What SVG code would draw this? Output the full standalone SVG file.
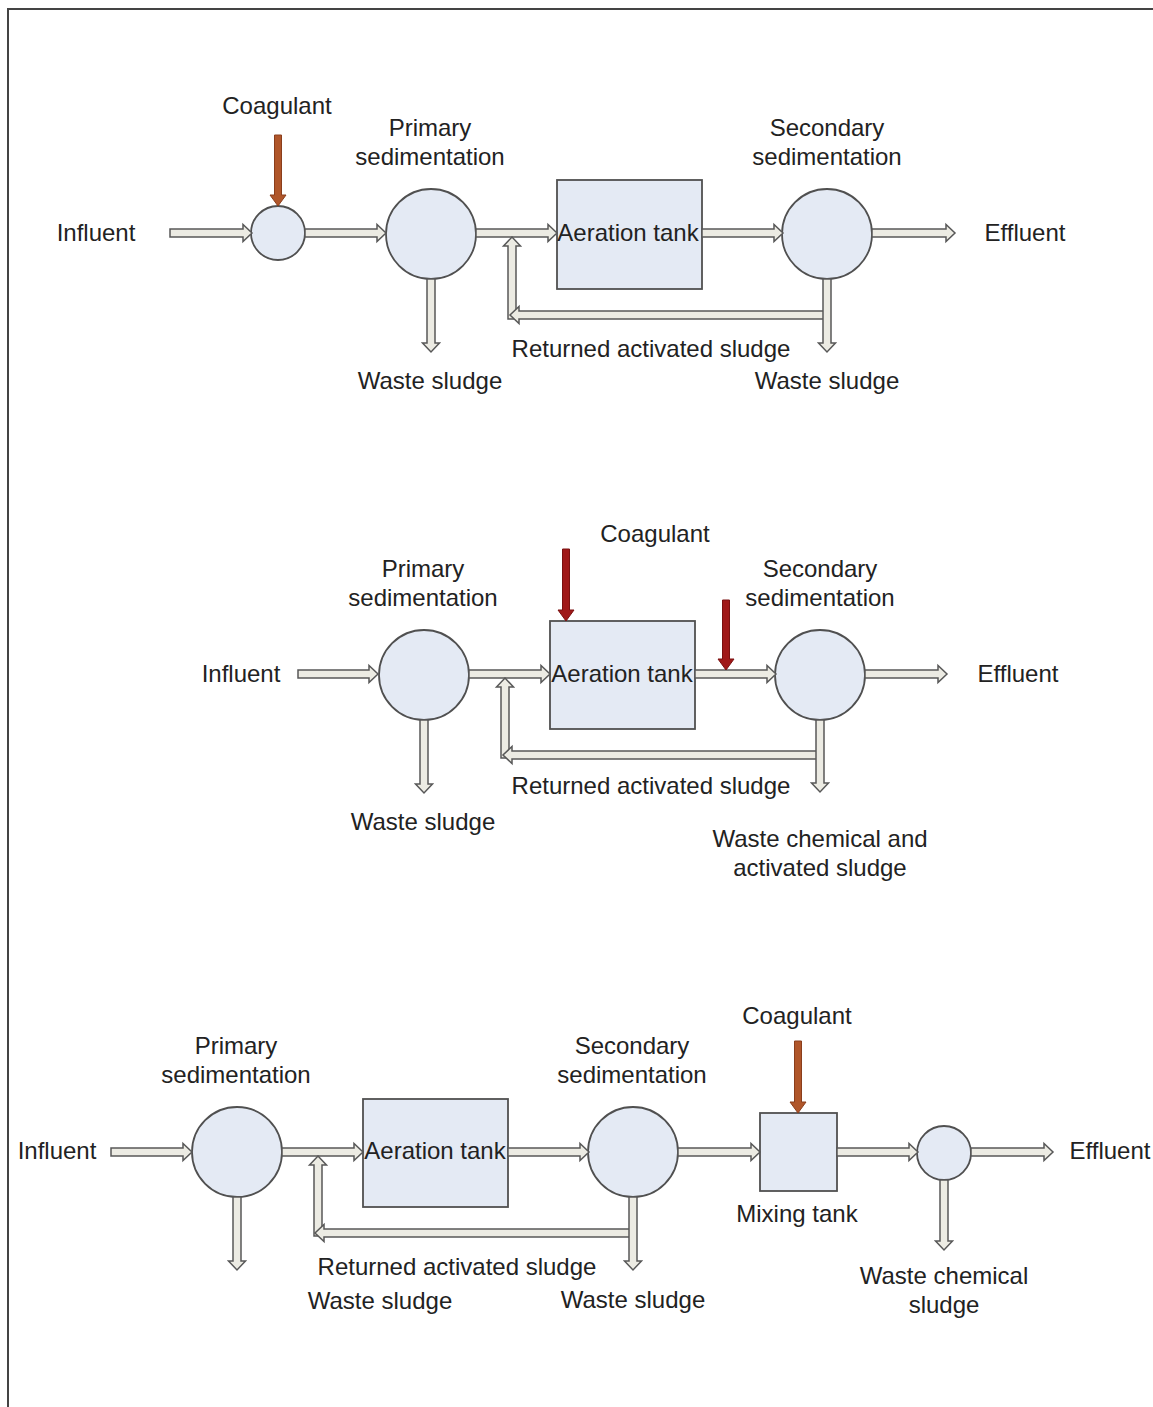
<svg xmlns="http://www.w3.org/2000/svg" width="1153" height="1407" viewBox="0 0 1153 1407">
<style>
.t{font-family:"Liberation Sans",Arial,sans-serif;font-size:24px;fill:#222;text-anchor:middle}
.node{fill:#e4eaf4;stroke:#505050;stroke-width:1.8}
.blk{fill:#ecebe3;stroke:#585858;stroke-width:1.5;stroke-linejoin:miter}
.brn{fill:#b0562a;stroke:#8a3e1c;stroke-width:1}
.red{fill:#a01818;stroke:#7a1010;stroke-width:1}
</style>
<rect width="1153" height="1407" fill="#fff"/>
<path d="M8 1407 V9 H1153" fill="none" stroke="#444" stroke-width="2"/>

<!-- Diagram 1 -->
<g id="d1-influent"><text class="t" x="96" y="241">Influent</text></g>
<g id="d1-mix"><circle class="node" cx="278" cy="233" r="27"/><text class="t" x="277" y="114">Coagulant</text></g>
<g id="d1-primary"><circle class="node" cx="431" cy="234" r="45"/><text class="t" x="430" y="136">Primary</text><text class="t" x="430" y="165">sedimentation</text></g>
<g id="d1-aeration"><rect class="node" x="557" y="180" width="145" height="109"/><text class="t" x="628" y="241">Aeration tank</text></g>
<g id="d1-secondary"><circle class="node" cx="827" cy="234" r="45"/><text class="t" x="827" y="136">Secondary</text><text class="t" x="827" y="165">sedimentation</text></g>
<g id="d1-effluent"><text class="t" x="1025" y="241">Effluent</text></g>
<g id="d1-labels"><text class="t" x="430" y="389">Waste sludge</text><text class="t" x="827" y="389">Waste sludge</text><text class="t" x="651" y="357">Returned activated sludge</text></g>

<!-- Diagram 2 -->
<g id="d2-influent"><text class="t" x="241" y="682">Influent</text></g>
<g id="d2-primary"><circle class="node" cx="424" cy="675" r="45"/><text class="t" x="423" y="577">Primary</text><text class="t" x="423" y="606">sedimentation</text></g>
<g id="d2-aeration"><rect class="node" x="550" y="621" width="145" height="108"/><text class="t" x="622" y="682">Aeration tank</text></g>
<g id="d2-secondary"><circle class="node" cx="820" cy="675" r="45"/><text class="t" x="820" y="577">Secondary</text><text class="t" x="820" y="606">sedimentation</text></g>
<g id="d2-effluent"><text class="t" x="1018" y="682">Effluent</text></g>
<g id="d2-labels"><text class="t" x="655" y="542">Coagulant</text><text class="t" x="423" y="830">Waste sludge</text><text class="t" x="651" y="794">Returned activated sludge</text><text class="t" x="820" y="847">Waste chemical and</text><text class="t" x="820" y="876">activated sludge</text></g>

<!-- Diagram 3 -->
<g id="d3-influent"><text class="t" x="57" y="1159">Influent</text></g>
<g id="d3-primary"><circle class="node" cx="237" cy="1152" r="45"/><text class="t" x="236" y="1054">Primary</text><text class="t" x="236" y="1083">sedimentation</text></g>
<g id="d3-aeration"><rect class="node" x="363" y="1099" width="145" height="108"/><text class="t" x="435" y="1159">Aeration tank</text></g>
<g id="d3-secondary"><circle class="node" cx="633" cy="1152" r="45"/><text class="t" x="632" y="1054">Secondary</text><text class="t" x="632" y="1083">sedimentation</text></g>
<g id="d3-mixing"><rect class="node" x="760" y="1113" width="77" height="78"/><text class="t" x="797" y="1222">Mixing tank</text><text class="t" x="797" y="1024">Coagulant</text></g>
<g id="d3-settle"><circle class="node" cx="944" cy="1153" r="27"/><text class="t" x="944" y="1284">Waste chemical</text><text class="t" x="944" y="1313">sludge</text></g>
<g id="d3-effluent"><text class="t" x="1110" y="1159">Effluent</text></g>
<g id="d3-labels"><text class="t" x="457" y="1275">Returned activated sludge</text><text class="t" x="380" y="1309">Waste sludge</text><text class="t" x="633" y="1308">Waste sludge</text></g>

<g id="connectors">
<!-- d1 -->
<path class="blk" d="M170 229 H243 V224.5 L252 233 L243 241.5 V237 H170 Z"/>
<path class="blk" d="M305 229 H377 V224.5 L386 233 L377 241.5 V237 H305 Z"/>
<path class="blk" d="M476 229 H548 V224.5 L557 233 L548 241.5 V237 H476 Z"/>
<path class="blk" d="M702 229 H774 V224.5 L783 233 L774 241.5 V237 H702 Z"/>
<path class="blk" d="M872 229 H946 V224.5 L955 233 L946 241.5 V237 H872 Z"/>
<path class="blk" d="M427 279 V343 H422.5 L431 352 L439.5 343 H435 V279 Z"/>
<path class="blk" d="M508 319 V246 H503.5 L512 237 L520.5 246 H516 V319 Z"/>
<path class="blk" d="M824 311 H519 V306.5 L510 315 L519 323.5 V319 H824 Z"/>
<path class="blk" d="M823 279 V343 H818.5 L827 352 L835.5 343 H831 V279 Z"/>
<path class="brn" d="M274.5 135 V195 H270 L278 206 L286 195 H281.5 V135 Z"/>
<!-- d2 -->
<path class="blk" d="M298 670 H369 V665.5 L378 674 L369 682.5 V678 H298 Z"/>
<path class="blk" d="M469 670 H541 V665.5 L550 674 L541 682.5 V678 H469 Z"/>
<path class="blk" d="M695 670 H767 V665.5 L776 674 L767 682.5 V678 H695 Z"/>
<path class="blk" d="M865 670 H938 V665.5 L947 674 L938 682.5 V678 H865 Z"/>
<path class="blk" d="M420 720 V784 H415.5 L424 793 L432.5 784 H428 V720 Z"/>
<path class="blk" d="M501 758 V687 H496.5 L505 678 L513.5 687 H509 V758 Z"/>
<path class="blk" d="M817 751 H512 V746.5 L503 755 L512 763.5 V759 H817 Z"/>
<path class="blk" d="M816 720 V783 H811.5 L820 792 L828.5 783 H824 V720 Z"/>
<path class="red" d="M562.5 549 V610 H558 L566 621 L574 610 H569.5 V549 Z"/>
<path class="red" d="M722.5 600 V659 H718 L726 670 L734 659 H729.5 V600 Z"/>
<!-- d3 -->
<path class="blk" d="M111 1148 H183 V1143.5 L192 1152 L183 1160.5 V1156 H111 Z"/>
<path class="blk" d="M282 1148 H354 V1143.5 L363 1152 L354 1160.5 V1156 H282 Z"/>
<path class="blk" d="M508 1148 H580 V1143.5 L589 1152 L580 1160.5 V1156 H508 Z"/>
<path class="blk" d="M678 1148 H751 V1143.5 L760 1152 L751 1160.5 V1156 H678 Z"/>
<path class="blk" d="M837 1148 H909 V1143.5 L918 1152 L909 1160.5 V1156 H837 Z"/>
<path class="blk" d="M971 1148 H1044 V1143.5 L1053 1152 L1044 1160.5 V1156 H971 Z"/>
<path class="blk" d="M233 1197 V1261 H228.5 L237 1270 L245.5 1261 H241 V1197 Z"/>
<path class="blk" d="M314 1236 V1165 H309.5 L318 1156 L326.5 1165 H322 V1236 Z"/>
<path class="blk" d="M630 1229 H324 V1224.5 L315 1233 L324 1241.5 V1237 H630 Z"/>
<path class="blk" d="M629 1197 V1261 H624.5 L633 1270 L641.5 1261 H637 V1197 Z"/>
<path class="blk" d="M940 1180 V1241 H935.5 L944 1250 L952.5 1241 H948 V1180 Z"/>
<path class="brn" d="M794.5 1041 V1102 H790 L798 1113 L806 1102 H801.5 V1041 Z"/>
</g>
</svg>
